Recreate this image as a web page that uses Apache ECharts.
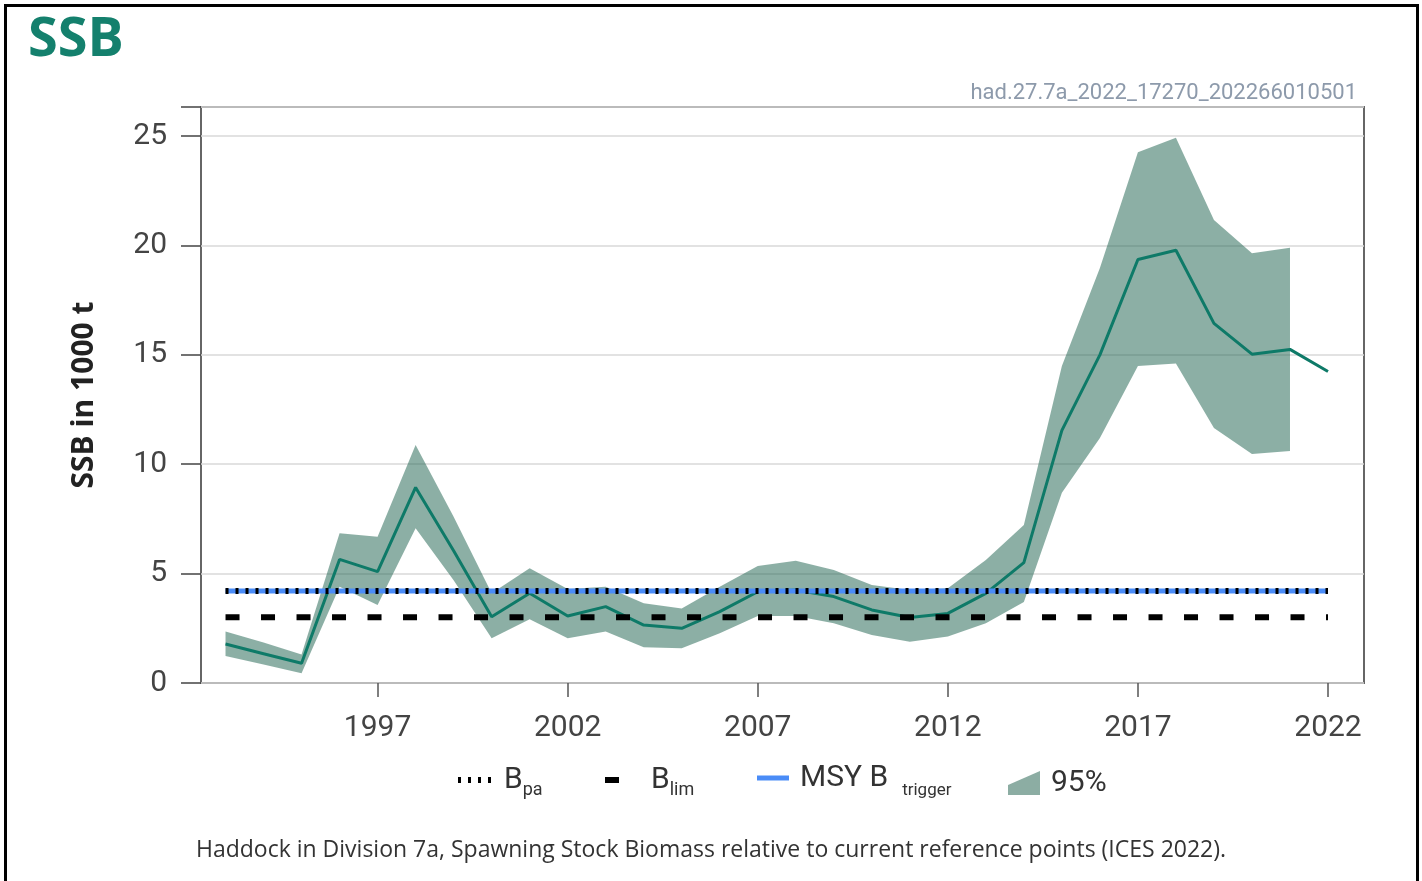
<!DOCTYPE html>
<html>
<head>
<meta charset="utf-8">
<script src="https://cdn.jsdelivr.net/npm/echarts@6/dist/echarts.min.js"></script>
<style>
  body { margin: 0; background: #fff; }
  #chart { width: 1422px; height: 881px; }
  #frame {
    position: absolute; left: 4px; top: 4px;
    width: 1409px; height: 900px;
    border: 3px solid #000; pointer-events: none;
  }
</style>
</head>
<body>
<div id="chart"></div>
<div id="frame"></div>
<script>
// SSB (1000 t)
const years = [1993, 1994, 1995, 1996, 1997, 1998, 1999, 2000, 2001, 2002,
  2003, 2004, 2005, 2006, 2007, 2008, 2009, 2010, 2011, 2012,
  2013, 2014, 2015, 2016, 2017, 2018, 2019, 2020, 2021, 2022]
const ssb = [1.78, 1.34, 0.9, 5.65, 5.09, 8.94, 6.05, 3.03, 4.1, 3.06,
  3.49, 2.65, 2.5, 3.26, 4.17, 4.25, 3.95, 3.34, 2.99, 3.18,
  4.1, 5.5, 11.55, 15.0, 19.36, 19.78, 16.44, 15.03, 15.25, 14.24]

// 95% interval, 1993-2021
const ciYears = years.slice(0, 29)
const ciLow = [1.23, 0.84, 0.44, 4.4, 3.56, 7.07, 4.7, 2.04, 2.91, 2.04,
  2.35, 1.63, 1.59, 2.27, 3.06, 3.06, 2.73, 2.19, 1.89, 2.12,
  2.73, 3.7, 8.7, 11.2, 14.49, 14.61, 11.66, 10.47, 10.6]
const ciHigh = [2.35, 1.85, 1.3, 6.84, 6.69, 10.88, 7.6, 4.1, 5.24, 4.3,
  4.4, 3.64, 3.41, 4.4, 5.35, 5.59, 5.16, 4.48, 4.25, 4.33,
  5.62, 7.22, 14.49, 18.97, 24.26, 24.93, 21.17, 19.65, 19.9]

// reference points
const refYears = [1993, 2022]
const bLim = 3.0
const bPa = 4.2
const msyBtrigger = 4.2

const xTicks = [1997, 2002, 2007, 2012, 2017, 2022]

const bandColor = 'rgba(25, 95, 75, 0.5)'
const lineColor = '#0e7a68'
const msyColor = '#4a8cf7'
const legendText = {color: '#333', fontFamily: 'Roboto', fontSize: 30}

const chart = echarts.init(document.getElementById('chart'))

// whole band as one polygon (upper edge forward, lower edge back)
function renderBand (params, api) {
  if (params.dataIndex !== 0) return null
  const upper = ciYears.map((y, i) => api.coord([y, ciHigh[i]]))
  const lower = ciYears.map((y, i) => api.coord([y, ciLow[i]])).reverse()
  return {
    type: 'polygon',
    shape: {points: upper.concat(lower)},
    style: {fill: bandColor}
  }
}

const option = {
  animation: false,
  backgroundColor: '#fff',
  title: [
    {
      text: 'SSB',
      left: 23,
      top: 9,
      textStyle: {fontFamily: 'Open Sans', fontWeight: 'bold', fontSize: 54, color: '#14806d'}
    },
    {
      text: 'had.27.7a_2022_17270_202266010501',
      right: 60,
      top: 77,
      textStyle: {fontFamily: 'Roboto', fontWeight: 'normal', fontSize: 22, color: '#8d9aab'}
    },
    {
      text: 'Haddock in Division 7a, Spawning Stock Biomass relative to current reference points (ICES 2022).',
      left: 'center',
      top: 834,
      textStyle: {fontFamily: 'Open Sans', fontWeight: 'normal', fontSize: 23, color: '#333'}
    }
  ],
  grid: {
    left: 201,
    right: 58,
    top: 107,
    bottom: 198,
    show: true,
    borderColor: '#666',
    borderWidth: 2
  },
  xAxis: {
    type: 'value',
    min: 1992.355,
    max: 2022.947,
    splitLine: {show: false},
    axisLine: {show: false},
    axisTick: {
      customValues: xTicks,
      length: 14,
      lineStyle: {color: '#555', width: 1.5}
    },
    axisLabel: {
      customValues: xTicks,
      margin: 30,
      fontFamily: 'Roboto',
      fontSize: 30,
      color: '#444',
      formatter: v => String(v)
    }
  },
  yAxis: {
    type: 'value',
    min: 0,
    max: 26.33,
    interval: 5,
    name: 'SSB in 1000 t',
    nameLocation: 'middle',
    nameGap: 102,
    nameTextStyle: {fontFamily: 'Open Sans', fontWeight: 'bold', fontSize: 30, color: '#222'},
    axisLine: {show: false},
    axisTick: {length: 20, lineStyle: {color: '#444', width: 1.5}},
    axisLabel: {
      margin: 34,
      fontFamily: 'Roboto',
      fontSize: 30,
      color: '#444',
      formatter: v => (v % 5 === 0 ? v : '')
    },
    splitLine: {lineStyle: {color: '#d9d9d9', width: 1.5}}
  },
  legend: [
    {
      data: [{
        name: 'Bpa',
        icon: 'path://M0,0h3v6h-3z M10,0h3v6h-3z M20,0h3v6h-3z M30,0h3v6h-3z',
        itemStyle: {color: '#000'}
      }],
      left: 458, top: 765, padding: 0,
      itemWidth: 33, itemHeight: 6,
      selectedMode: false,
      formatter: () => '{b|B}{s|pa}',
      textStyle: {...legendText, rich: {
        b: {fontSize: 30, padding: [0, 0, 0, 8]},
        s: {fontSize: 18, padding: [20, 0, 0, 0]}
      }}
    },
    {
      data: [{name: 'Blim', icon: 'path://M0,0h14v6h-14z', itemStyle: {color: '#000'}}],
      left: 605, top: 765, padding: 0,
      itemWidth: 14, itemHeight: 6,
      selectedMode: false,
      formatter: () => '{b|B}{s|lim}',
      textStyle: {...legendText, rich: {
        b: {fontSize: 30, padding: [0, 0, 0, 27]},
        s: {fontSize: 18, padding: [20, 0, 0, 0]}
      }}
    },
    {
      data: [{name: 'MSY Btrigger', icon: 'path://M0,0h32v5h-32z', itemStyle: {color: msyColor}}],
      left: 757, top: 763, padding: 0,
      itemWidth: 32, itemHeight: 5,
      selectedMode: false,
      formatter: () => '{b|MSY B}{t|trigger}',
      textStyle: {...legendText, rich: {
        b: {fontSize: 30, padding: [0, 0, 0, 6]},
        t: {fontSize: 17, padding: [26, 0, 0, 14]}
      }}
    },
    {
      data: [{name: '95%', icon: 'path://M0,14L32,0L32,24L0,24Z', itemStyle: {color: '#8cada3'}}],
      left: 1008, top: 768, padding: 0,
      itemWidth: 32, itemHeight: 24,
      selectedMode: false,
      formatter: () => '{b|95%}',
      textStyle: {...legendText, rich: {
        b: {fontSize: 30, padding: [0, 0, 0, 6]}
      }}
    }
  ],
  series: [
    {
      name: '95%',
      type: 'custom',
      silent: true,
      itemStyle: {color: '#8cada3'},
      renderItem: renderBand,
      data: ciYears.map((y, i) => [y, ciLow[i], ciHigh[i]]),
      encode: {x: 0, y: [1, 2]}
    },
    {
      name: 'SSB',
      type: 'line',
      symbol: 'none',
      lineStyle: {color: lineColor, width: 3},
      itemStyle: {color: lineColor},
      data: years.map((y, i) => [y, ssb[i]])
    },
    {
      name: 'Blim',
      type: 'line',
      symbol: 'none',
      itemStyle: {color: '#000'},
      lineStyle: {color: '#000', width: 6, type: [14, 21.5]},
      data: refYears.map(y => [y, bLim])
    },
    {
      name: 'MSY Btrigger',
      type: 'line',
      symbol: 'none',
      itemStyle: {color: msyColor},
      lineStyle: {color: msyColor, width: 5},
      data: refYears.map(y => [y, msyBtrigger])
    },
    {
      name: 'Bpa',
      type: 'line',
      symbol: 'none',
      itemStyle: {color: '#000'},
      lineStyle: {color: '#000', width: 6, type: [3, 7]},
      data: refYears.map(y => [y, bPa])
    }
  ]
}

chart.setOption(option)
</script>
</body>
</html>
